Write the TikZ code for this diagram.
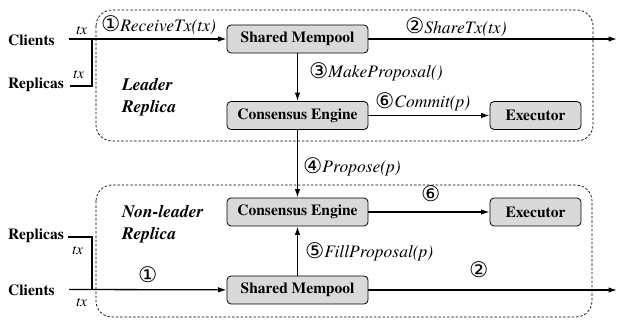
\documentclass[tikz,border=0pt]{standalone}
\usepackage{fontspec}
\setmainfont{TeX Gyre Termes}
\newfontfamily\circf{DejaVu Sans}
\newcommand\cnum[1]{{\circf\upshape\fontsize{21.5}{20}\selectfont\raisebox{-0.3pt}{#1}}}
\usetikzlibrary{arrows.meta}
\definecolor{boxgray}{gray}{0.85}

\begin{document}
\begin{tikzpicture}[x=1pt,y=-1pt,
  blk/.style={draw=black, line width=0.8pt, fill=boxgray, rounded corners=4pt,
    minimum height=28pt, inner sep=0pt, font=\fontsize{15.5}{18}\selectfont\bfseries},
  grp/.style={draw=black, line width=0.7pt, dash pattern=on 2.5pt off 1.8pt, rounded corners=16pt},
  flow/.style={line width=1.3pt, -{Latex[length=8.5pt,width=5.5pt]}},
  wire/.style={line width=1.3pt},
  lbl/.style={inner sep=0pt, anchor=west, font=\fontsize{17.5}{20}\selectfont\itshape},
  side/.style={inner sep=0pt, anchor=west, font=\fontsize{15.5}{18}\selectfont\bfseries},
  tag/.style={inner sep=0pt, font=\fontsize{15}{18}\selectfont\itshape},
  role/.style={inner sep=0pt, anchor=west, align=left, font=\fontsize{17.5}{22}\selectfont\bfseries\itshape}
]
\useasboundingbox (0,0) rectangle (618,320);

% replica frames
\draw[grp] (96,10) rectangle (593,141);
\draw[grp] (96,185) rectangle (592,317);

% leader replica
\node[blk, minimum width=141pt] (mp1) at (297.5,39) {Shared Mempool};
\node[blk, minimum width=141pt] (ce1) at (297.5,115.5) {Consensus Engine};
\node[blk, minimum width=91pt] (ex1) at (535.5,115.5) {Executor};

% non-leader replica
\node[blk, minimum width=141pt] (ce2) at (297.5,212) {Consensus Engine};
\node[blk, minimum width=91pt] (ex2) at (535.5,212) {Executor};
\node[blk, minimum width=141pt] (mp2) at (297.5,290) {Shared Mempool};

% sources
\node[side] (cl1) at (8,40) {Clients};
\node[side] (rp1) at (8,85) {Replicas};
\node[side] (rp2) at (8,236) {Replicas};
\node[side] (cl2) at (8,290) {Clients};

\coordinate (c1) at (69,39);
\coordinate (r1) at (70,86);
\coordinate (j1) at (92,39);
\coordinate (c2) at (69,289.5);
\coordinate (r2) at (68,237);
\coordinate (j2) at (92,289.5);
\coordinate (o1) at (617,39);
\coordinate (o2) at (617,290);

% connectors
\draw[flow] (c1) -- (mp1);
\draw[wire] (r1) -| (j1);
\draw[flow] (mp1) -- (o1);
\draw[flow] (mp1) -- (ce1);
\draw[flow] (ce1) -- (ex1);
\draw[flow] (ce1) -- (ce2);
\draw[flow] (ce2) -- (ex2);
\draw[flow] (mp2) -- (ce2);
\draw[flow] (c2) -- (mp2);
\draw[wire] (r2) -| (j2);
\draw[flow] (mp2) -- (o2);

% tx tags
\node[tag] (t1) at (81.5,30) {tx};
\node[tag] (t2) at (78.5,74) {tx};
\node[tag] (t3) at (77.5,250) {tx};
\node[tag] (t4) at (81.5,302) {tx};

% role captions
\node[role] (lr) at (122,97) {Leader\\Replica};
\node[role] (nr) at (122,224) {Non-leader\\Replica};

% step labels
\node[lbl] (s1) at (101,25) {\cnum{①}ReceiveTx(tx)};
\node[lbl] (s2) at (405,27) {\cnum{②}ShareTx(tx)};
\node[lbl] (s3) at (309,72) {\cnum{③}MakeProposal()};
\node[lbl] (s6) at (375,102) {\cnum{⑥}Commit(p)};
\node[lbl] (s4) at (303,167) {\cnum{④}Propose(p)};
\node[lbl] (s6b) at (421,194) {\cnum{⑥}};
\node[lbl] (s5) at (305,252) {\cnum{⑤}FillProposal(p)};
\node[lbl] (s1b) at (138,275) {\cnum{①}};
\node[lbl] (s2b) at (469,270) {\cnum{②}};
\end{tikzpicture}
\end{document}
